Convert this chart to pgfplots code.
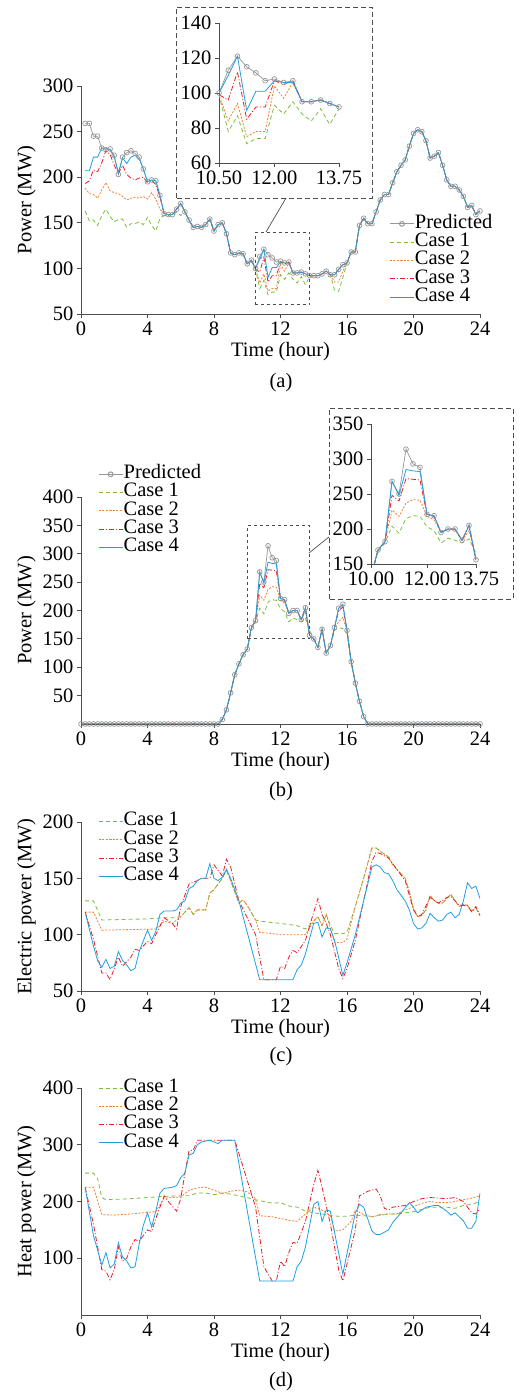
\documentclass[border=0pt]{standalone}
\usepackage{fontspec}
\setmainfont{Liberation Serif}
\usepackage{pgfplots}
\usepackage{pgfplotstable}
\pgfplotsset{compat=1.18}
\definecolor{cP}{RGB}{150,150,150}
\definecolor{c1}{RGB}{120,190,60}
\definecolor{c2}{RGB}{240,130,50}
\definecolor{c3}{RGB}{230,30,40}
\definecolor{c4}{RGB}{30,160,225}
\newcommand{\F}{\fontsize{20.5}{20.5}\selectfont}
\pgfplotsset{
 legend image code/.code={\draw[mark repeat=2,mark phase=2,#1,line width=1pt] plot coordinates {(0pt,0pt) (12pt,0pt) (24pt,0pt)};},
 panel/.style={scale only axis, axis lines*=left, axis line style={black!70,line width=0.8pt},
  tick style={black!70,line width=0.8pt}, tick align=outside, major tick length=4pt,
  ticklabel style={font=\F}, label style={font=\F},
  /pgf/number format/assume math mode=true, clip=true,
  legend cell align=left,
  legend style={draw=none, fill=none, font=\F, nodes={inner sep=0.5pt, text height=13pt, text depth=4.3pt}, row sep=0pt},
  xtick={0,4,...,24}, xmin=0, xmax=24},
 sP/.style={cP, line width=0.7pt, mark=o, mark size=2.4pt, mark options={solid,cP}},
 s1/.style={c1, line width=0.8pt, dash pattern=on 4pt off 3pt},
 s2/.style={c2, line width=0.8pt, dash pattern=on 2pt off 1.5pt},
 s3/.style={c3, line width=0.8pt, dash pattern=on 5pt off 2pt on 1pt off 2pt},
 s4/.style={c4, line width=0.8pt},
}
\pgfplotstableread{
x P C1 C2 C3 C4
0.25 259 163 188 193 207
0.5 259 152 182 196 207
0.75 245 153 181 208 222
1 245 147 177 206 222
1.25 232 158 186 216 232
1.5 230 165 194 229 232
1.75 231 157 185 225 230
2 224 151 183 213 222
2.25 203 154 182 204 205
2.5 222 154 179 213 221
2.75 227 145 175 203 215
3 229 149 177 199 222
3.25 226 149 178 197 224
3.5 222 151 177 199 220
3.75 209 148 179 200 209
4 195 156 176 194 195
4.25 197 147 183 196 197
4.5 196 141 176 192 196
4.75 180 155 165 178 180
5 160 158 160 160 160
5.25 159 158 159 159 159
5.5 159 157 159 159 159
5.75 165 162 165 165 165
6 171 158 171 171 171
6.25 162 162 162 162 162
6.5 153 153 153 153 153
6.75 145 145 145 145 145
7 146 146 146 146 146
7.25 145 145 145 145 145
7.5 148 148 148 148 148
7.75 154 154 154 154 154
8 141 141 141 141 141
8.25 148 148 148 148 148
8.5 150 150 150 150 150
8.75 138 138 138 138 138
9 117 117 117 117 117
9.25 115 115 115 115 115
9.5 117 117 117 117 117
9.75 116 116 116 116 116
10 105 105 105 105 105
10.25 109 109 109 109 109
10.5 100 99 99 99 100
10.75 113 78 84 96 110
11 121 87 94 112 121
11.25 115 71 75 85 90
11.5 111.5 74 78 92 101
11.75 107 74 78 92 101
12 108 93 104 107 107
12.25 106 88 97 105 106
12.5 107 95 106 107 106
12.75 95 88 95 95 95
13 95 84 95 95 95
13.25 96 91 96 96 96
13.5 94 82 94 94 94
13.75 92 91 92 92 92
14 92 92 92 92 92
14.25 92 92 92 92 92
14.5 94 94 94 94 94
14.75 97 97 97 97 97
15 93 93 93 93 93
15.25 93 76 85 93 93
15.5 99 75 85 99 99
15.75 104 90 97 104 104
16 106 106 106 106 106
16.25 118 118 118 118 118
16.5 118 118 118 118 118
16.75 147 147 147 147 147
17 155 155 155 155 155
17.25 149 149 149 149 149
17.5 149 149 149 149 149
17.75 162 162 162 162 162
18 175 175 175 175 175
18.25 181 181 181 181 181
18.5 181 181 181 181 181
18.75 194 194 194 194 194
19 206 206 206 206 206
19.25 213 213 213 213 213
19.5 219 219 219 219 219
19.75 234 234 234 234 234
20 248 248 248 248 248
20.25 252 252 252 252 252
20.5 250 250 250 250 250
20.75 240 240 240 240 240
21 221 221 221 221 221
21.25 223 223 223 223 223
21.5 227 227 227 227 227
21.75 213 213 213 213 213
22 197 197 197 197 197
22.25 190 190 190 190 190
22.5 190 190 190 190 190
22.75 186 186 186 186 186
23 179 179 179 179 179
23.25 167 167 167 167 167
23.5 169 169 169 169 169
23.75 159 159 159 159 159
24 163 163 163 163 163
}\ta
\pgfplotstableread{
x P C1 C2 C3 C4
0 0 0 0 0 0
0.25 0 0 0 0 0
0.5 0 0 0 0 0
0.75 0 0 0 0 0
1 0 0 0 0 0
1.25 0 0 0 0 0
1.5 0 0 0 0 0
1.75 0 0 0 0 0
2 0 0 0 0 0
2.25 0 0 0 0 0
2.5 0 0 0 0 0
2.75 0 0 0 0 0
3 0 0 0 0 0
3.25 0 0 0 0 0
3.5 0 0 0 0 0
3.75 0 0 0 0 0
4 0 0 0 0 0
4.25 0 0 0 0 0
4.5 0 0 0 0 0
4.75 0 0 0 0 0
5 0 0 0 0 0
5.25 0 0 0 0 0
5.5 0 0 0 0 0
5.75 0 0 0 0 0
6 0 0 0 0 0
6.25 0 0 0 0 0
6.5 0 0 0 0 0
6.75 0 0 0 0 0
7 0 0 0 0 0
7.25 0 0 0 0 0
7.5 0 0 0 0 0
7.75 0 0 0 0 0
8 0 0 0 0 0
8.25 0 0 0 0 0
8.5 8 8 8 8 8
8.75 25 25 25 25 25
9 55 55 55 55 55
9.25 87 87 87 87 87
9.5 106 106 106 106 106
9.75 122 122 122 122 122
10 132 132 132 132 132
10.25 170 168 170 170 170
10.5 182 180 182 182 182
10.75 268 204 227 248 268
11 250 194 218 240 248
11.25 314 215 237 272 285
11.5 293 219 242 271 283
11.75 288 218 241 270 282
12 221 203 218 220 221
12.25 219 198 213 218 219
12.5 195 180 196 195 195
12.75 200 187 199 200 200
13 200 184 199 200 200
13.25 184 180 183 184 184
13.5 205 186 198 205 205
13.75 156 165 156 156 156
14 150 150 150 150 150
14.25 135 135 135 135 135
14.5 167 167 167 167 167
14.75 125 125 125 125 125
15 138 138 138 138 138
15.25 170 165 170 170 170
15.5 204 170 180 200 204
15.75 211 168 188 206 211
16 165 160 165 165 165
16.25 110 110 110 110 110
16.5 72 72 72 72 72
16.75 40 40 40 40 40
17 13 13 13 13 13
17.25 0 0 0 0 0
17.5 0 0 0 0 0
17.75 0 0 0 0 0
18 0 0 0 0 0
18.25 0 0 0 0 0
18.5 0 0 0 0 0
18.75 0 0 0 0 0
19 0 0 0 0 0
19.25 0 0 0 0 0
19.5 0 0 0 0 0
19.75 0 0 0 0 0
20 0 0 0 0 0
20.25 0 0 0 0 0
20.5 0 0 0 0 0
20.75 0 0 0 0 0
21 0 0 0 0 0
21.25 0 0 0 0 0
21.5 0 0 0 0 0
21.75 0 0 0 0 0
22 0 0 0 0 0
22.25 0 0 0 0 0
22.5 0 0 0 0 0
22.75 0 0 0 0 0
23 0 0 0 0 0
23.25 0 0 0 0 0
23.5 0 0 0 0 0
23.75 0 0 0 0 0
24 0 0 0 0 0
}\tb
\pgfplotstableread{
x y
0.25 130
0.75 130
1.25 113
4 114
5 115
5.75 115
6 116
6.5 124
6.75 118
7 122
7.5 122
7.75 137
8 140
8.5 150
8.75 157
9 148
9.5 128
9.75 131
10 126
10.5 113
10.75 112
12 110
13 108
13.5 105
14 112
14.25 116
14.5 108
14.75 118
15 108
15.25 101
15.75 101
16 102
16.5 125
17 150
17.5 177
17.75 177
18 174
18.5 169
18.75 162
19 158
19.5 150
19.75 138
20 123
20.25 116
20.5 117
20.75 122
21 135
21.25 130
21.5 128
21.75 128
22 132
22.25 136
22.5 130
22.75 125
23 127
23.25 126
23.5 121
23.75 124
24 117
}\tcA
\pgfplotstableread{
x y
0.25 120
0.75 120
1.25 104
4.5 105
5 112
5.5 110
6 116
6.5 124
6.75 118
7 122
7.5 122
7.75 137
8 140
8.5 150
8.75 157
9 148
9.5 128
9.75 131
10 126
10.5 113
10.75 102
11.5 101
12 100
13 100
13.5 100
14 112
14.25 116
14.5 108
14.75 118
15 106
15.25 93
15.75 93
16 96
16.5 125
17 150
17.5 177
17.75 177
18 174
18.5 169
18.75 162
19 158
19.5 150
19.75 138
20 123
20.25 116
20.5 117
20.75 122
21 135
21.25 130
21.5 128
21.75 128
22 132
22.25 136
22.5 130
22.75 125
23 127
23.25 126
23.5 121
23.75 124
24 117
}\tcB
\pgfplotstableread{
x y
0.25 120
0.75 96
1.25 66
1.5 66
1.75 60
2 70
2.25 80
2.5 72
3 80
3.25 87
3.5 86
4 94
4.25 92
4.5 100
5 115
5.5 110
5.75 105
6 125
6.25 135
6.5 145
7 148
7.25 150
7.75 150
8 162
8.25 157
8.5 152
8.75 167
9 160
9.5 130
10.5 100
11 60
11.75 60
12 72
12.25 70
12.5 80
12.75 86
13 84
13.5 95
14 120
14.25 132
14.5 118
14.75 110
15 100
15.5 70
15.75 61
16 70
16.5 95
17 130
17.5 165
17.75 173
18 172
18.5 168
19 158
19.5 148
20 122
20.25 116
20.5 118
21 133
21.5 128
22 133
22.25 134
22.75 126
23.25 126
23.5 120
23.75 125
24 117
}\tcC
\pgfplotstableread{
x y
0.25 120
0.75 90
1 77
1.25 71
1.5 78
1.75 70
2 72
2.25 85
2.5 77
2.75 73
3 68
3.25 70
3.5 85
4 104
4.25 95
4.5 103
4.75 118
5 121
5.5 121
5.75 122
6 128
6.25 130
6.5 141
6.75 143
7 148
7.25 150
7.5 150
7.75 163
8 150
8.25 148
8.5 151
8.75 158
9 150
9.5 130
10.75 60
12.75 60
13 69
13.25 73
13.5 83
14 110
14.25 111
14.5 98
14.75 106
15 105
15.25 95
15.75 64
16 75
16.5 100
17 130
17.5 160
17.75 162
18 160
18.25 155
18.5 154
18.75 148
19 140
19.5 130
19.75 122
20 110
20.25 105
20.5 106
20.75 110
21 119
21.25 115
21.5 112
21.75 113
22 118
22.25 120
22.5 115
22.75 118
23 130
23.25 146
23.5 141
23.75 143
24 132
}\tcD
\pgfplotstableread{
x y
0.25 250
0.75 250
1 240
1.25 207
1.5 203
3 205
4 207
5 209
6 210
6.5 210
7 215
7.5 215
8 212
8.5 215
9 213
9.5 210
10 207
10.5 203
11 200
11.5 197
12 198
12.5 192
13 190
13.5 183
14 180
14.5 178
15 175
15.5 174
16 174
16.5 176
17 175
17.5 173
18 177
18.5 178
19 178
19.5 180
20 182
20.5 186
21 190
21.5 190
22 190
22.5 188
23 193
23.5 195
24 200
}\tdA
\pgfplotstableread{
x y
0.25 225
0.75 225
1.25 177
2 176
3 178
4 181
4.5 182
5 206
6 208
6.5 220
7 224
7.5 225
8 220
8.5 214
9 218
9.5 220
10 217
10.5 205
10.75 175
11.5 173
12 170
12.5 167
13 165
13.5 178
14 190
14.5 185
15 175
15.25 148
15.75 150
16.25 165
16.5 185
17 177
17.5 173
18 176
18.5 178
19 178
19.5 185
20 191
20.5 197
21 200
21.5 198
22 198
22.5 200
23 203
23.5 206
24 210
}\tdB
\pgfplotstableread{
x y
0.25 225
0.75 160
1.25 80
1.5 77
1.75 62
2 80
2.25 120
2.5 95
2.75 100
3 120
3.25 133
3.5 130
4 150
4.25 147
4.5 170
5 210
5.25 200
5.75 183
6 205
6.25 250
6.5 290
6.75 290
7 308
9.25 308
10.5 190
11 85
11.5 60
11.75 60
12 95
12.25 85
12.5 110
12.75 128
13 126
13.5 165
14 230
14.25 255
14.5 225
15 160
15.5 80
15.75 60
16 90
16.5 150
16.75 210
17.25 218
17.75 222
18 210
18.25 188
18.5 185
18.75 190
19.5 193
20 200
20.5 205
21 207
22 205
22.5 207
23 200
23.5 180
23.75 178
24 188
}\tdC
\pgfplotstableread{
x y
0.25 225
0.75 140
1.25 88
1.5 110
1.75 83
2 90
2.25 127
2.5 102
2.75 95
3 83
3.25 85
3.5 125
3.75 158
4 180
4.25 155
4.5 183
4.75 215
5 223
5.5 225
5.75 228
6 242
6.25 250
6.5 282
6.75 285
7 300
7.25 305
7.75 308
8.25 302
8.5 308
9.25 308
10.75 60
12.75 60
13 85
13.25 95
13.5 120
14 195
14.25 200
14.5 165
14.75 185
15 183
15.75 72
16.5 180
16.75 195
17 190
17.5 148
17.75 142
18 142
18.5 150
18.75 163
19.25 180
19.75 198
20 190
20.25 180
20.75 190
21.25 193
21.5 193
22 183
22.25 176
22.5 180
23 166
23.25 153
23.5 153
23.75 165
24 215
}\tdD
\begin{document}
\begin{tikzpicture}[x=1pt,y=1pt]
\path[use as bounding box] (0,0) rectangle (526,1393);
\begin{axis}[panel, at={(81pt,1079pt)}, anchor=south west, width=399pt, height=228pt,
  ymin=50, ymax=300, ytick={50,100,...,300}, xlabel={Time (hour)}, ylabel={Power (MW)},
  legend style={at={(0.765,0.445)}, anchor=north west}]
\addplot[sP] table[x=x,y=P]{\ta};
\addplot[s1] table[x=x,y=C1]{\ta};
\addplot[s2] table[x=x,y=C2]{\ta};
\addplot[s3] table[x=x,y=C3]{\ta};
\addplot[s4] table[x=x,y=C4]{\ta};
\legend{Predicted,Case 1,Case 2,Case 3,Case 4}
\draw[black!70, dashed, line width=0.8pt] (axis cs:10.5,60) rectangle (axis cs:13.75,140);
\end{axis}
\draw[black!70, line width=0.7pt] (266pt,1161pt) -- (286pt,1195pt);
\draw[black!70, line width=0.8pt, dash pattern=on 5pt off 3pt] (176pt,1195pt) rectangle (372pt,1386pt);
\begin{axis}[panel, at={(219pt,1230pt)}, anchor=south west, width=120pt, height=140pt,
  xmin=10.5, xmax=13.75, xtick={10.5,12,13.75}, xticklabels={10.50,12.00,13.75},
  ymin=60, ymax=140, ytick={60,80,...,140}]
\addplot[sP] table[x=x,y=P]{\ta};
\addplot[s1] table[x=x,y=C1]{\ta};
\addplot[s2] table[x=x,y=C2]{\ta};
\addplot[s3] table[x=x,y=C3]{\ta};
\addplot[s4] table[x=x,y=C4]{\ta};
\end{axis}
\node[font=\F] at (281pt,1010pt) {(a)};
\begin{axis}[panel, at={(81pt,669pt)}, anchor=south west, width=399pt, height=227pt,
  ymin=0, ymax=400, ytick={50,100,...,400}, xlabel={Time (hour)}, ylabel={Power (MW)},
  legend style={at={(0.035,1.15)}, anchor=north west}]
\addplot[sP] table[x=x,y=P]{\tb};
\addplot[s1] table[x=x,y=C1]{\tb};
\addplot[s2] table[x=x,y=C2]{\tb};
\addplot[s3] table[x=x,y=C3]{\tb};
\addplot[s4] table[x=x,y=C4]{\tb};
\legend{Predicted,Case 1,Case 2,Case 3,Case 4}
\draw[black!70, dashed, line width=0.8pt] (axis cs:10,150) rectangle (axis cs:13.75,350);
\end{axis}
\draw[black!70, line width=0.7pt] (309pt,840pt) -- (329pt,856pt);
\draw[black!70, line width=0.8pt, dash pattern=on 5pt off 3pt] (329pt,794pt) rectangle (513pt,985pt);
\begin{axis}[panel, at={(371pt,829pt)}, anchor=south west, width=105pt, height=140pt,
  xmin=10, xmax=13.75, xtick={10,12,13.75}, xticklabels={10.00,12.00,13.75},
  ymin=150, ymax=350, ytick={150,200,...,350}]
\addplot[sP] table[x=x,y=P]{\tb};
\addplot[s1] table[x=x,y=C1]{\tb};
\addplot[s2] table[x=x,y=C2]{\tb};
\addplot[s3] table[x=x,y=C3]{\tb};
\addplot[s4] table[x=x,y=C4]{\tb};
\end{axis}
\node[font=\F] at (281pt,601pt) {(b)};
\begin{axis}[panel, at={(81pt,402pt)}, anchor=south west, width=399pt, height=169pt,
  ymin=50, ymax=200, ytick={50,100,...,200}, xlabel={Time (hour)}, ylabel={Electric power (MW)},
  legend style={at={(0.035,1.07)}, anchor=north west}]
\addplot[s1] table{\tcA};
\addplot[s2] table{\tcB};
\addplot[s3] table{\tcC};
\addplot[s4] table{\tcD};
\legend{Case 1,Case 2,Case 3,Case 4}
\end{axis}
\node[font=\F] at (281pt,336pt) {(c)};
\begin{axis}[panel, at={(81pt,78pt)}, anchor=south west, width=399pt, height=227pt,
  ymin=0, ymax=400, ytick={100,200,...,400}, xlabel={Time (hour)}, ylabel={Heat power (MW)},
  legend style={at={(0.035,1.05)}, anchor=north west}]
\addplot[s1] table{\tdA};
\addplot[s2] table{\tdB};
\addplot[s3] table{\tdC};
\addplot[s4] table{\tdD};
\legend{Case 1,Case 2,Case 3,Case 4}
\end{axis}
\node[font=\F] at (281pt,11pt) {(d)};
\end{tikzpicture}
\end{document}
